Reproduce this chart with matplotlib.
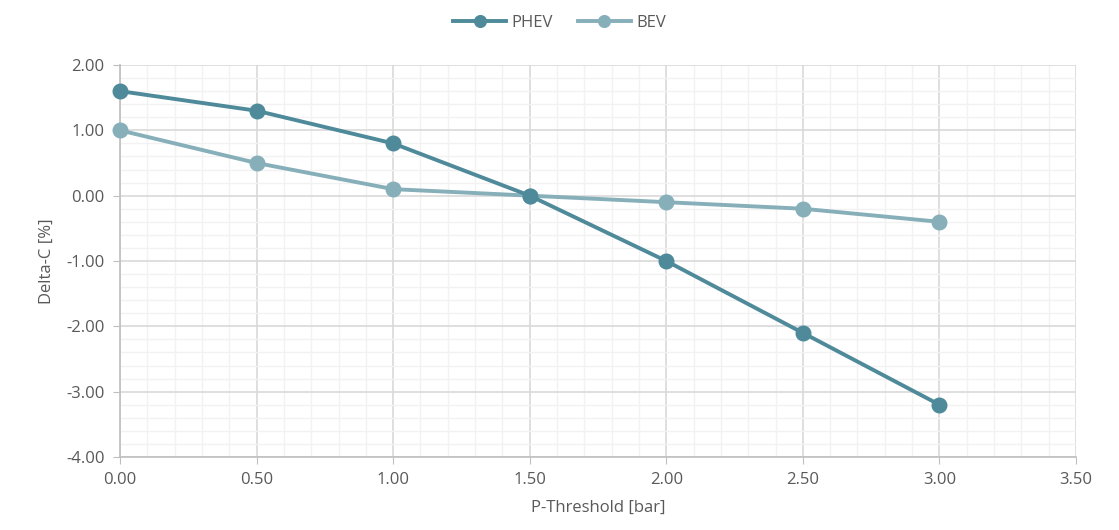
import matplotlib.pyplot as plt
from matplotlib.ticker import MultipleLocator, FormatStrFormatter

p_threshold = [0.0, 0.5, 1.0, 1.5, 2.0, 2.5, 3.0]
phev = [1.6, 1.3, 0.8, 0.0, -1.0, -2.1, -3.2]
bev = [1.0, 0.5, 0.1, 0.0, -0.1, -0.2, -0.4]

plt.rcParams['font.family'] = ['Open Sans', 'DejaVu Sans']
txt = '#595959'

fig = plt.figure(figsize=(11.19, 5.30), dpi=100)
ax = fig.add_axes([120 / 1119, 1 - 457 / 530, (1076 - 120) / 1119, (457 - 65) / 530])

ax.plot(p_threshold, phev, color='#4E8A9A', lw=2.8, marker='o', ms=10.5, label='PHEV',
        zorder=4, clip_on=False)
ax.plot(p_threshold, bev, color='#86AFBA', lw=2.8, marker='o', ms=10.5, label='BEV',
        zorder=3, clip_on=False)

ax.set_xlim(0, 3.5)
ax.set_ylim(-4, 2)
ax.xaxis.set_major_locator(MultipleLocator(0.5))
ax.xaxis.set_minor_locator(MultipleLocator(0.1))
ax.yaxis.set_major_locator(MultipleLocator(1.0))
ax.yaxis.set_minor_locator(MultipleLocator(0.2))
ax.xaxis.set_major_formatter(FormatStrFormatter('%.2f'))
ax.yaxis.set_major_formatter(FormatStrFormatter('%.2f'))

ax.grid(which='major', color='#D9D9D9', lw=1.2)
ax.grid(which='minor', color='#F2F2F2', lw=1.0)
ax.set_axisbelow(True)

for s in ['top', 'right']:
    ax.spines[s].set_visible(False)
for s in ['left', 'bottom']:
    ax.spines[s].set_color('#BFBFBF')
    ax.spines[s].set_linewidth(1.2)

ax.tick_params(which='major', length=5, color='#BFBFBF', labelcolor=txt, labelsize=12, pad=6)
ax.tick_params(which='minor', length=0)

ax.set_xlabel('P-Threshold [bar]', color=txt, fontsize=12, labelpad=8)
ax.set_ylabel('Delta-C [%]', color=txt, fontsize=12, labelpad=8)

fig.legend(loc='upper center', bbox_to_anchor=(0.5, 1.0), ncol=2, frameon=False,
           fontsize=12, labelcolor=txt, handlelength=3.2, columnspacing=1.5,
           handletextpad=0.3, markerscale=0.8)

fig.savefig('out.png', dpi=100)
